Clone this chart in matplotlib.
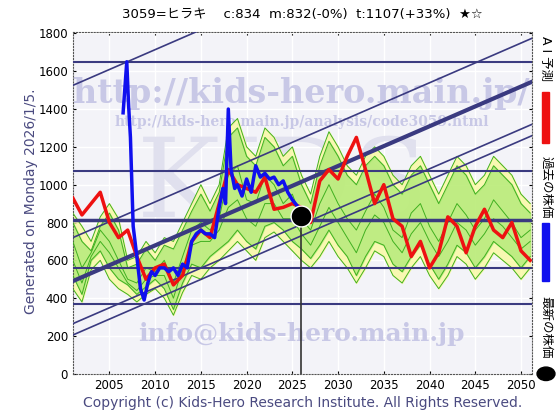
import matplotlib
matplotlib.use("Agg")
import matplotlib.pyplot as plt
import numpy as np

plt.rcParams['font.family'] = ['DejaVu Sans', 'Noto Sans CJK JP']

title = "3059=ヒラキ    c:834  m:832(-0%)  t:1107(+33%)  ★☆"

# AI prediction (red)
red_x = [2001, 2002, 2003, 2004, 2005, 2006, 2007, 2008, 2009, 2010, 2011, 2012, 2013, 2014,
         2015, 2016, 2017, 2018, 2019, 2020, 2021, 2022, 2023, 2024, 2025, 2026, 2027, 2028,
         2029, 2030, 2031, 2032, 2033, 2034, 2035, 2036, 2037, 2038, 2039, 2040, 2041, 2042,
         2043, 2044, 2045, 2046, 2047, 2048, 2049, 2050, 2051]
red_y = [930, 840, 900, 960, 800, 720, 760, 620, 500, 560, 580, 470, 520, 700,
         760, 720, 900, 1080, 1000, 980, 960, 1040, 870, 880, 900, 880, 800, 1020,
         1080, 1030, 1150, 1250, 1080, 900, 1000, 820, 780, 620, 700, 560, 640, 830,
         780, 640, 780, 870, 760, 720, 800, 650, 600]

# actual price (blue)
blue_x = [2006.5, 2006.9, 2007.1, 2007.3, 2007.6, 2008.0, 2008.4, 2008.8, 2009.2, 2009.6, 2010.0,
          2010.5, 2011.0, 2011.5, 2012.0, 2012.5, 2013.0, 2013.5, 2014.0, 2014.5, 2015.0,
          2015.5, 2016.0, 2016.5, 2017.0, 2017.4, 2017.7, 2018.0, 2018.3, 2018.7, 2019.0,
          2019.5, 2020.0, 2020.5, 2021.0, 2021.5, 2022.0, 2022.5, 2023.0, 2023.5, 2024.0,
          2024.5, 2025.0, 2025.5, 2026.0]
blue_y = [1380, 1650, 1420, 1250, 780, 620, 450, 390, 480, 540, 520,
          560, 560, 540, 560, 520, 580, 560, 700, 740, 760,
          740, 740, 720, 880, 980, 900, 1400, 1080, 980, 1000,
          940, 1030, 960, 1100, 1040, 1060, 1030, 1040, 1000, 1020,
          960, 920, 890, 860]

latest_x, latest_y = 2026.0, 834

# forecast bands
band_x = [2001, 2002, 2003, 2004, 2005, 2006, 2007, 2008, 2009, 2010, 2011, 2012, 2013, 2014,
          2015, 2016, 2017, 2018, 2019, 2020, 2021, 2022, 2023, 2024, 2025, 2026, 2027, 2028,
          2029, 2030, 2031, 2032, 2033, 2034, 2035, 2036, 2037, 2038, 2039, 2040, 2041, 2042,
          2043, 2044, 2045, 2046, 2047, 2048, 2049, 2050, 2051]
yellow_hi = [850, 780, 700, 830, 900, 820, 600, 620, 700, 640, 720, 700, 800, 900,
             1000, 900, 1000, 1300, 1350, 1200, 1150, 1300, 1250, 1150, 1200, 1050, 950, 1150,
             1280, 1200, 1100, 1050, 1150, 1200, 1150, 1050, 1000, 1100, 1150, 1050, 950, 1050,
             1150, 1100, 1000, 1050, 1150, 1100, 1050, 950, 900]
yellow_lo = [450, 380, 550, 600, 500, 450, 420, 380, 420, 450, 400, 310, 430, 520,
             500, 560, 600, 650, 700, 650, 600, 720, 750, 700, 650, 600, 560, 620,
             700, 620, 560, 480, 560, 650, 620, 520, 480, 560, 620, 520, 450, 520,
             620, 580, 500, 560, 640, 600, 560, 500, 560]
green_hi = [800, 700, 650, 780, 850, 760, 560, 580, 660, 600, 680, 660, 760, 860,
            950, 860, 960, 1250, 1300, 1150, 1100, 1250, 1200, 1100, 1150, 1000, 900, 1100,
            1230, 1150, 1050, 1000, 1100, 1150, 1100, 1000, 950, 1050, 1100, 1000, 900, 1000,
            1100, 1050, 950, 1000, 1100, 1050, 1000, 900, 850]
green_lo = [520, 420, 600, 650, 560, 500, 470, 420, 460, 500, 450, 340, 480, 580,
            560, 620, 660, 700, 760, 700, 660, 780, 800, 760, 700, 660, 610, 680,
            760, 680, 620, 520, 620, 700, 680, 580, 540, 620, 680, 580, 500, 580,
            680, 640, 560, 620, 700, 660, 620, 560, 620]
green_mid1 = [700, 560, 640, 760, 700, 600, 500, 480, 560, 540, 600, 480, 620, 760,
              800, 760, 820, 1050, 1100, 920, 900, 1050, 1000, 900, 950, 820, 760, 900,
              1000, 900, 820, 760, 860, 950, 880, 760, 720, 850, 900, 780, 700, 800,
              900, 840, 760, 820, 920, 860, 800, 720, 760]
green_mid2 = [600, 480, 620, 700, 640, 560, 480, 440, 500, 520, 520, 400, 560, 680,
              700, 700, 760, 880, 920, 820, 780, 900, 900, 820, 820, 740, 680, 780,
              880, 800, 720, 640, 760, 840, 800, 700, 640, 740, 800, 700, 620, 700,
              800, 760, 680, 740, 820, 780, 720, 660, 700]

hlines = [1650, 1070, 815, 560, 370]
hline_w = [1.5, 1.5, 2.5, 1.5, 1.5]
trend_start = [1525, 720, 490, 265, 205]
trend_w = [1.2, 1.2, 3.0, 1.2, 1.2]
trend_slope = 21.0

years = [2005, 2010, 2015, 2020, 2025, 2030, 2035, 2040, 2045, 2050]

fig = plt.figure(figsize=(5.6, 4.2), dpi=100)
ax = fig.add_axes([0.13, 0.11, 0.82, 0.815])
ax.set_facecolor('#f3f3f8')
ax.set_xlim(2001, 2051.2)
ax.set_ylim(0, 1810)

ax.text(2026, 1480, "http://kids-hero.main.jp/", fontsize=24, color='#c8c8e6',
        ha='center', va='center', family='DejaVu Serif', fontweight='bold', zorder=1)
ax.text(2026, 1330, "http://kids-hero.main.jp/analysis/code3059.html", fontsize=10, color='#c8c8e6',
        ha='center', va='center', family='DejaVu Serif', fontweight='bold', zorder=1)
ax.text(2024, 990, "KIDS", fontsize=80, color='#e0e0ee', ha='center', va='center',
        family='DejaVu Serif', zorder=1)
ax.text(2026, 210, "info@kids-hero.main.jp", fontsize=18, color='#c8c8e6',
        ha='center', va='center', family='DejaVu Serif', fontweight='bold', zorder=1)

ax.fill_between(band_x, yellow_lo, yellow_hi, color='#fafaa0', alpha=0.8, zorder=2)
ax.fill_between(band_x, green_lo, green_hi, color='#a8e870', alpha=0.7, zorder=2)
for s in (yellow_hi, yellow_lo, green_hi, green_lo, green_mid1, green_mid2):
    ax.plot(band_x, s, color='#40b020', lw=0.7, zorder=3)

for v, w in zip(hlines, hline_w):
    ax.axhline(v, color='#3a3a80', lw=w, zorder=4)
xx = np.array([2001, 2052])
for b, w in zip(trend_start, trend_w):
    ax.plot(xx, b + trend_slope * (xx - 2001), color='#3a3a80', lw=w, zorder=4)

ax.plot(red_x, red_y, color='#ee1111', lw=2.5, zorder=5)
ax.plot(blue_x, blue_y, color='#1010ee', lw=2.5, zorder=6)
ax.plot([latest_x, latest_x], [0, latest_y], color='#333333', lw=1.2, zorder=6)
ax.plot(latest_x, latest_y, 'o', color='black', ms=15, mec='white', mew=1, zorder=7)

ax.set_xticks(years)
ax.set_yticks(range(0, 1801, 200))
ax.grid(color='white', lw=1, zorder=0)
ax.set_axisbelow(True)
ax.tick_params(labelsize=8.5, length=2, direction='in', top=True, right=True)
for sp in ax.spines.values():
    sp.set_linestyle(':')
    sp.set_color('#555555')

fig.text(0.54, 0.965, title, ha='center', va='center', fontsize=9.5)
fig.text(0.055, 0.52, "Generated on Monday 2026/1/5.", rotation=90, ha='center',
         va='center', fontsize=10, color='#4a4a80')
fig.text(0.54, 0.04, "Copyright (c) Kids-Hero Research Institute. All Rights Reserved.",
         ha='center', va='center', fontsize=10, color='#4a4a80')

# right side legend
fig.text(0.975, 0.86, "A I 予測", rotation=270, ha='center', va='center', fontsize=9)
fig.patches.append(plt.Rectangle((0.968, 0.66), 0.013, 0.12, color='#ee1111',
                                 transform=fig.transFigure, figure=fig))
fig.text(0.975, 0.555, "過去の株価", rotation=270, ha='center', va='center', fontsize=9)
fig.patches.append(plt.Rectangle((0.968, 0.33), 0.013, 0.14, color='#1010ee',
                                 transform=fig.transFigure, figure=fig))
fig.text(0.975, 0.22, "最新の株価", rotation=270, ha='center', va='center', fontsize=9)
fig.patches.append(matplotlib.patches.Circle((0.975, 0.11), 0.016, color='black',
                                             transform=fig.transFigure, figure=fig))

fig.savefig("out.png", dpi=100)
